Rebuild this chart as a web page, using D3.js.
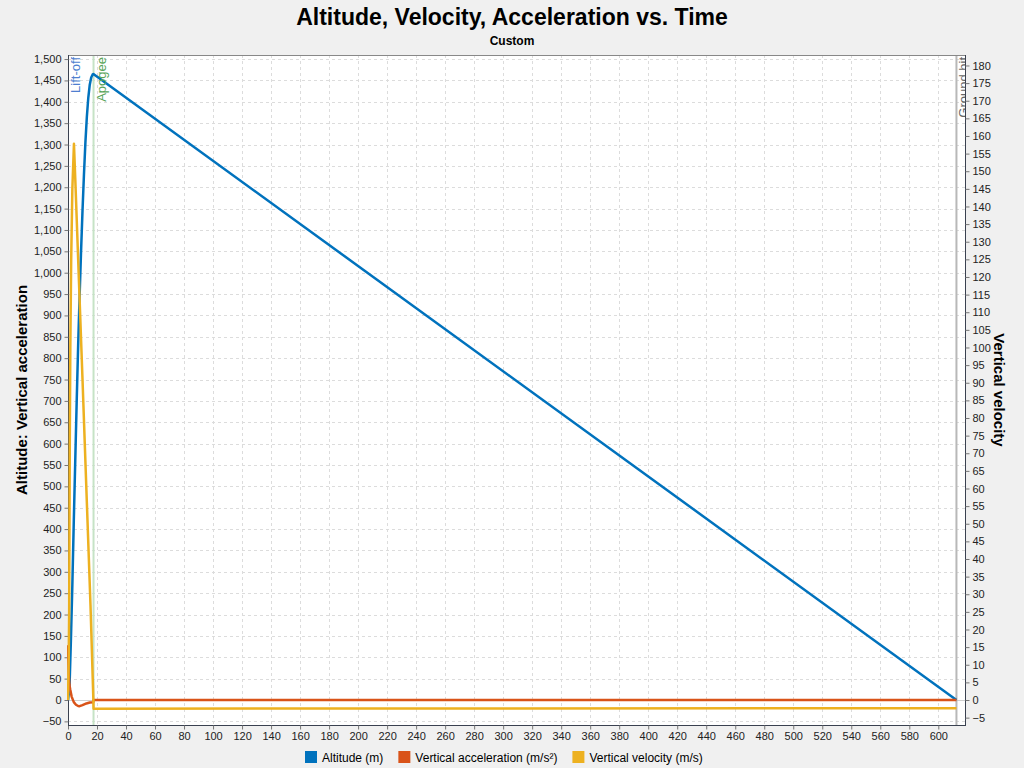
<!DOCTYPE html>
<html>
<head>
<meta charset="utf-8">
<script src="https://cdn.jsdelivr.net/npm/d3@7"></script>
<style>
  body { margin: 0; background: #f0f0f0; }
  svg { display: block; font-family: "Liberation Sans", Arial, sans-serif; }
  .tick text { font-size: 11px; fill: #222; }
</style>
</head>
<body>
<svg id="chart" width="1024" height="768"></svg>
<script>
// time (s) / value pairs
const altitudeTime = [0, 1, 2, 3, 4, 5, 6, 7, 8, 9, 10, 11, 12, 13, 14, 15, 16, 17, 17.5, 612.5];
const altitudeValue = [0, 25, 140, 270, 420, 560, 700, 830, 945, 1050, 1145, 1230, 1305, 1365, 1410, 1440, 1457, 1464, 1465, 0];

const accelTime = [0, 0.2, 0.5, 1, 1.5, 2.5, 4, 5.5, 7, 8, 10, 12.7, 15, 17.4, 17.5, 612.5];
const accelValue = [128, 100, 60, 35, 25, 8, -5, -11, -14, -14.5, -12, -8, -6, -5, 0, 0];

const velocityTime = [0, 0.5, 0.8, 1.2, 1.6, 2.2, 3, 4.1, 5, 7, 10, 13, 15.5, 17.5, 17.6, 612.5];
const velocityValue = [0, 12, 25, 70, 100, 125, 145, 157.8, 148, 125, 91, 56, 27, 0, -2.45, -2.35];

const seriesNames = ["Altitude (m)", "Vertical acceleration (m/s\u00b2)", "Vertical velocity (m/s)"];
const seriesColors = ["#0072BD", "#D95319", "#EDB120"];

const eventNames = ["Lift-off", "Apogee", "Ground hit"];
const eventTimes = [0, 17.6, 612.5];
const eventTextColors = ["#4f7fd0", "#5aa55a", "#666666"];
const eventLineColors = ["#9fb8e6", "#c6e3c6", "#b8b8b8"];

const xTicks = d3.range(0, 601, 20);
const leftTicks = d3.range(-50, 1501, 50);
const rightTicks = d3.range(-5, 181, 5);

const svg = d3.select("#chart");
const plot = { left: 68, right: 965, top: 55, bottom: 725 };

const x = d3.scaleLinear().domain([0, 618.4]).range([plot.left, plot.right]);
const yLeft = d3.scaleLinear().domain([-58.5, 1509.5]).range([plot.bottom, plot.top]);
const yRight = d3.scaleLinear().domain([-58.5 / 8.25, 1509.5 / 8.25]).range([plot.bottom, plot.top]);

const defs = svg.append("defs");
defs.append("clipPath").attr("id", "clip")
  .append("rect")
  .attr("x", plot.left).attr("y", plot.top)
  .attr("width", plot.right - plot.left).attr("height", plot.bottom - plot.top);
// a little wider on the left so the first samples show over the axis line
defs.append("clipPath").attr("id", "clipSeries")
  .append("rect")
  .attr("x", plot.left - 1).attr("y", plot.top)
  .attr("width", plot.right - plot.left + 1).attr("height", plot.bottom - plot.top);

// plot background
svg.append("rect")
  .attr("x", plot.left).attr("y", plot.top)
  .attr("width", plot.right - plot.left).attr("height", plot.bottom - plot.top)
  .attr("fill", "#fff");

// grid
const grid = svg.append("g").attr("stroke", "#dcdcdc").attr("stroke-dasharray", "3,3").attr("stroke-width", 1);
grid.selectAll(".vx").data(xTicks.filter(d => d > 0)).join("line")
  .attr("x1", d => Math.round(x(d)) + 0.5).attr("x2", d => Math.round(x(d)) + 0.5)
  .attr("y1", plot.top).attr("y2", plot.bottom);
grid.selectAll(".hy").data(leftTicks).join("line")
  .attr("y1", d => Math.round(yLeft(d)) + 0.5).attr("y2", d => Math.round(yLeft(d)) + 0.5)
  .attr("x1", plot.left).attr("x2", plot.right);

// zero base line
svg.append("line")
  .attr("x1", plot.left).attr("x2", plot.right)
  .attr("y1", Math.round(yLeft(0)) + 0.5).attr("y2", Math.round(yLeft(0)) + 0.5)
  .attr("stroke", "#d0d0d0");

// event markers
const markers = svg.append("g").attr("clip-path", "url(#clip)");
eventTimes.forEach((t, i) => {
  markers.append("line")
    .attr("x1", x(t)).attr("x2", x(t))
    .attr("y1", plot.top).attr("y2", plot.bottom)
    .attr("stroke", eventLineColors[i]).attr("stroke-width", 2);
});

// plot border
svg.append("rect")
  .attr("x", plot.left + 0.5).attr("y", plot.top + 0.5)
  .attr("width", plot.right - plot.left).attr("height", plot.bottom - plot.top)
  .attr("fill", "none").attr("stroke", "#888");

// axes
const axisColor = "#3a4150";
const xAxis = svg.append("g").attr("transform", `translate(0,${plot.bottom + 0.5})`)
  .call(d3.axisBottom(x).tickValues(xTicks).tickSize(4).tickPadding(3).tickFormat(d3.format("d")));
const leftAxis = svg.append("g").attr("transform", `translate(${plot.left + 0.5},0)`)
  .call(d3.axisLeft(yLeft).tickValues(leftTicks).tickSize(4).tickPadding(3).tickFormat(d3.format(",")));
const rightAxis = svg.append("g").attr("transform", `translate(${plot.right + 0.5},0)`)
  .call(d3.axisRight(yRight).tickValues(rightTicks).tickSize(4).tickPadding(3).tickFormat(d3.format("d")));
[xAxis, leftAxis, rightAxis].forEach(a => {
  a.attr("font-family", null).attr("font-size", null);
  a.select(".domain").attr("stroke", axisColor);
  a.selectAll(".tick line").attr("stroke", "#777");
});
xAxis.select(".domain").attr("d", `M${plot.left},0H${plot.right + 1}`);
leftAxis.select(".domain").attr("d", `M0,${plot.top}V${plot.bottom + 1}`);
rightAxis.select(".domain").attr("d", `M0,${plot.top}V${plot.bottom + 1}`);

// series
const seriesLayer = svg.append("g").attr("clip-path", "url(#clipSeries)");
const line = d3.line();
const seriesData = [
  altitudeTime.map((t, i) => [x(t), yLeft(altitudeValue[i])]),
  accelTime.map((t, i) => [x(t), yLeft(accelValue[i])]),
  velocityTime.map((t, i) => [x(t), yRight(velocityValue[i])])
];
seriesData.forEach((pts, i) => {
  seriesLayer.append("path")
    .attr("d", line(pts))
    .attr("fill", "none")
    .attr("stroke", seriesColors[i])
    .attr("stroke-width", 2.5)
    .attr("stroke-linejoin", "round");
});

// event labels
const labels = svg.append("g").attr("clip-path", "url(#clip)");
eventTimes.forEach((t, i) => {
  labels.append("text")
    .attr("transform", `translate(${x(t) + 12},${plot.top + 2}) rotate(-90)`)
    .attr("text-anchor", "end")
    .attr("font-size", 13)
    .attr("fill", eventTextColors[i])
    .text(eventNames[i]);
});

// titles
svg.append("text")
  .attr("x", 512).attr("y", 25)
  .attr("text-anchor", "middle")
  .attr("font-size", 23).attr("font-weight", "bold").attr("fill", "#000")
  .text("Altitude, Velocity, Acceleration vs. Time");
svg.append("text")
  .attr("x", 512).attr("y", 45)
  .attr("text-anchor", "middle")
  .attr("font-size", 12).attr("font-weight", "bold").attr("fill", "#000")
  .text("Custom");

const midY = (plot.top + plot.bottom) / 2;
svg.append("text")
  .attr("transform", `translate(27,${midY}) rotate(-90)`)
  .attr("text-anchor", "middle")
  .attr("font-size", 15).attr("font-weight", "bold").attr("fill", "#000")
  .text("Altitude: Vertical acceleration");
svg.append("text")
  .attr("transform", `translate(994,${midY}) rotate(90)`)
  .attr("text-anchor", "middle")
  .attr("font-size", 15).attr("font-weight", "bold").attr("fill", "#000")
  .text("Vertical velocity");

// legend
const legend = svg.append("g");
let lx = 305;
seriesNames.forEach((name, i) => {
  legend.append("rect")
    .attr("x", lx).attr("y", 751)
    .attr("width", 12).attr("height", 12)
    .attr("fill", seriesColors[i]);
  const t = legend.append("text")
    .attr("x", lx + 17).attr("y", 762)
    .attr("font-size", 12).attr("fill", "#000")
    .text(name);
  lx += 17 + t.node().getComputedTextLength() + 15;
});
</script>
</body>
</html>
